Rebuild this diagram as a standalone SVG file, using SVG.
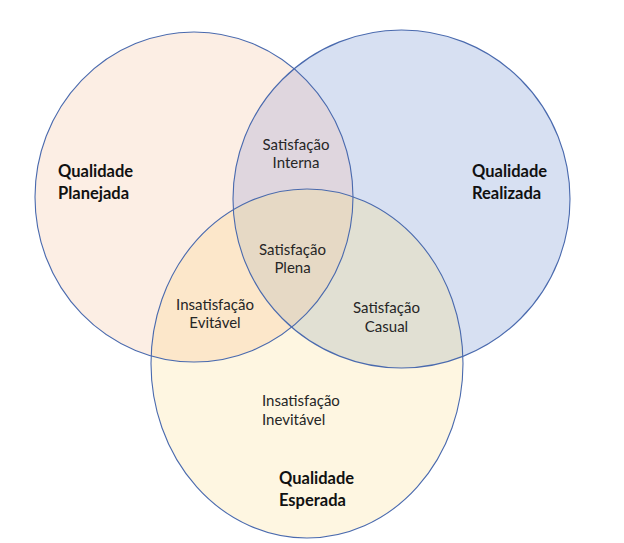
<svg xmlns="http://www.w3.org/2000/svg" width="624" height="543" viewBox="0 0 624 543">
  <style>
    .edge { fill: none; stroke: #4A6AAE; stroke-width: 1.1; }
    .title { font-family: Lato, "Liberation Sans", sans-serif; font-weight: bold; font-size: 16.5px; fill: #111111; }
    .region { font-family: Lato, "Liberation Sans", sans-serif; font-size: 15px; fill: #262626; text-anchor: middle; }
    .region-left { font-family: Lato, "Liberation Sans", sans-serif; font-size: 15px; fill: #262626; }
  </style>
  <defs>
    <clipPath id="clipL"><ellipse cx="194" cy="197" rx="159" ry="165"/></clipPath>
    <clipPath id="clipR"><ellipse cx="401.5" cy="199" rx="168.5" ry="169"/></clipPath>
    <clipPath id="clipB"><ellipse cx="307" cy="363.5" rx="156" ry="174.5"/></clipPath>
  </defs>
  <rect width="624" height="543" fill="#FFFFFF"/>

  <!-- base fills -->
  <g id="fills">
    <ellipse cx="194" cy="197" rx="159" ry="165" fill="#FCEEE4"/>
    <ellipse cx="401.5" cy="199" rx="168.5" ry="169" fill="#D7E0F2"/>
    <ellipse cx="307" cy="363.5" rx="156" ry="174.5" fill="#FEF6E1"/>
  </g>

  <!-- overlap regions -->
  <g id="overlaps">
    <g clip-path="url(#clipL)">
      <ellipse cx="401.5" cy="199" rx="168.5" ry="169" fill="#DFD6DE"/>
      <ellipse cx="307" cy="363.5" rx="156" ry="174.5" fill="#FCE7CA"/>
    </g>
    <g clip-path="url(#clipR)">
      <ellipse cx="307" cy="363.5" rx="156" ry="174.5" fill="#E1E0D3"/>
    </g>
    <g clip-path="url(#clipL)">
      <g clip-path="url(#clipR)">
        <ellipse cx="307" cy="363.5" rx="156" ry="174.5" fill="#E6D9C5"/>
      </g>
    </g>
  </g>

  <g id="node-planejada">
    <ellipse class="edge" cx="194" cy="197" rx="159" ry="165"/>
    <text class="title" x="58" y="177">Qualidade</text>
    <text class="title" x="58" y="199">Planejada</text>
  </g>
  <g id="node-realizada">
    <ellipse class="edge" cx="401.5" cy="199" rx="168.5" ry="169"/>
    <text class="title" x="472" y="177">Qualidade</text>
    <text class="title" x="472" y="199">Realizada</text>
  </g>
  <g id="node-esperada">
    <ellipse class="edge" cx="307" cy="363.5" rx="156" ry="174.5"/>
    <text class="title" x="279" y="484">Qualidade</text>
    <text class="title" x="279" y="506">Esperada</text>
  </g>

  <g id="region-interna">
    <text class="region" x="296" y="150">Satisfação</text>
    <text class="region" x="296" y="168">Interna</text>
  </g>
  <g id="region-plena">
    <text class="region" x="292.5" y="255">Satisfação</text>
    <text class="region" x="292.5" y="273">Plena</text>
  </g>
  <g id="region-evitavel">
    <text class="region" x="215" y="310">Insatisfação</text>
    <text class="region" x="215" y="328">Evitável</text>
  </g>
  <g id="region-casual">
    <text class="region" x="386.5" y="313">Satisfação</text>
    <text class="region" x="386.5" y="332">Casual</text>
  </g>
  <g id="region-inevitavel">
    <text class="region-left" x="262" y="406">Insatisfação</text>
    <text class="region-left" x="262" y="425">Inevitável</text>
  </g>
</svg>
